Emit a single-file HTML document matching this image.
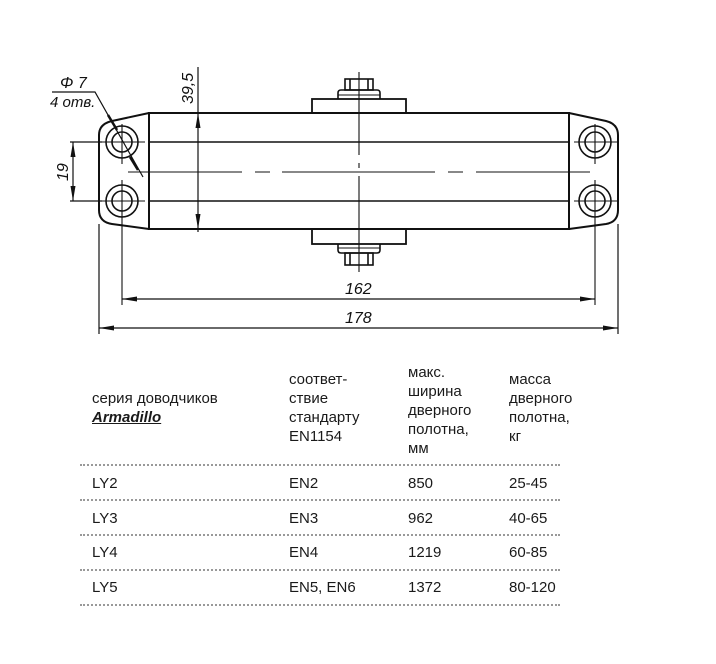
<!DOCTYPE html>
<html><head><meta charset="utf-8"><style>
body{margin:0;background:#fff;width:716px;height:664px;overflow:hidden;position:relative;font-family:"Liberation Sans",sans-serif;color:#1a1a1a}
svg{position:absolute;left:0;top:0}
.t{position:absolute;font-size:15px;line-height:19px;color:#1a1a1a}
.dot{position:absolute;left:80px;width:480px;border-top:2px dotted #999;height:0}
</style></head><body>
<svg width="716" height="664" viewBox="0 0 716 664" fill="none" stroke="#111" stroke-width="1.6">
<defs><marker id="a" viewBox="0 0 15 6" refX="15" refY="3" markerWidth="15" markerHeight="6" orient="auto-start-reverse" markerUnits="userSpaceOnUse"><path d="M0,0.5 L15,3 L0,5.5 z" fill="#111" stroke="none"/></marker></defs>
<rect x="149" y="113" width="420" height="116" stroke-width="2"/>
<line x1="149" y1="142" x2="569" y2="142"/>
<line x1="149" y1="201" x2="569" y2="201"/>
<path d="M149,113 L112,121 Q99,124 99,135 L99,210 Q99,222 112,224 L149,229" stroke-width="2"/>
<path d="M569,113 L606,121 Q618,124 618,135 L618,210 Q618,222 606,224 L569,229" stroke-width="2"/>
<g stroke-width="1.6">
<circle cx="122" cy="142" r="16"/><circle cx="122" cy="142" r="10"/>
<circle cx="122" cy="201" r="16"/><circle cx="122" cy="201" r="10"/>
<circle cx="595" cy="142" r="16"/><circle cx="595" cy="142" r="10"/>
<circle cx="595" cy="201" r="16"/><circle cx="595" cy="201" r="10"/>
</g>
<g stroke-width="1.1">
<line x1="102" y1="142" x2="145" y2="142"/><line x1="102" y1="201" x2="145" y2="201"/>
<line x1="574" y1="142" x2="618" y2="142"/><line x1="574" y1="201" x2="618" y2="201"/>
<line x1="122" y1="124" x2="122" y2="164"/><line x1="122" y1="180" x2="122" y2="305"/>
<line x1="595" y1="124" x2="595" y2="164"/><line x1="595" y1="180" x2="595" y2="305"/>
<path d="M128,172 H242 M255,172 H270 M282,172 H435 M448,172 H463 M476,172 H590"/>
<path d="M359,72 V155 M359,163 V168 M359,176 V272"/>
</g>
<rect x="312" y="99" width="94" height="14" stroke-width="1.8"/>
<path d="M338,99 V93 Q338,90 341,90 H377 Q380,90 380,93 V99" stroke-width="1.6"/>
<rect x="345" y="79" width="28" height="11" stroke-width="1.6"/>
<line x1="350" y1="79" x2="350" y2="90"/><line x1="368" y1="79" x2="368" y2="90"/>
<line x1="338" y1="95" x2="380" y2="95" stroke-width="1"/>
<rect x="312" y="229" width="94" height="15" stroke-width="1.8"/>
<path d="M338,244 V250 Q338,253 341,253 H377 Q380,253 380,250 V244" stroke-width="1.6"/>
<rect x="345" y="253" width="28" height="12" stroke-width="1.6"/>
<line x1="350" y1="253" x2="350" y2="265"/><line x1="368" y1="253" x2="368" y2="265"/>
<line x1="338" y1="248" x2="380" y2="248" stroke-width="1"/>
<g stroke-width="1.2">
<line x1="198" y1="67" x2="198" y2="113"/>
<line x1="198" y1="113" x2="198" y2="229" marker-start="url(#a)" marker-end="url(#a)"/>
<line x1="198" y1="229" x2="198" y2="232"/>
<line x1="70" y1="142" x2="102" y2="142"/><line x1="70" y1="201" x2="102" y2="201"/>
<line x1="73" y1="142" x2="73" y2="201" marker-start="url(#a)" marker-end="url(#a)"/>
<line x1="122" y1="299" x2="595" y2="299" marker-start="url(#a)" marker-end="url(#a)"/>
<line x1="99" y1="224" x2="99" y2="334"/><line x1="618" y1="224" x2="618" y2="334"/>
<line x1="99" y1="328" x2="618" y2="328" marker-start="url(#a)" marker-end="url(#a)"/>
<path d="M52,92 H95 L143,177"/>
</g>
<path d="M108,115 L117,130" stroke-width="2.5"/>
<path d="M130,157 L138,170" stroke-width="2.5"/>
<g fill="#111" stroke="none" font-family="Liberation Sans" font-style="italic" font-size="16">
<text x="60" y="88">Φ 7</text>
<text x="50" y="107" font-size="15">4 отв.</text>
<text transform="translate(193,104) rotate(-90)">39,5</text>
<text transform="translate(68,181) rotate(-90)">19</text>
<text x="345" y="294">162</text>
<text x="345" y="323">178</text>
</g>
</svg>
<div class="t" style="left:92px;top:389px">серия доводчиков<br><b><i><u>Armadillo</u></i></b></div>
<div class="t" style="left:289px;top:370px">соответ-<br>ствие<br>стандарту<br>EN1154</div>
<div class="t" style="left:408px;top:363px">макс.<br>ширина<br>дверного<br>полотна,<br>мм</div>
<div class="t" style="left:509px;top:370px">масса<br>дверного<br>полотна,<br>кг</div>
<div class="dot" style="top:464px"></div>
<div class="dot" style="top:499px"></div>
<div class="dot" style="top:534px"></div>
<div class="dot" style="top:569px"></div>
<div class="dot" style="top:604px"></div>
<div class="t" style="left:92px;top:474px">LY2</div><div class="t" style="left:289px;top:474px">EN2</div><div class="t" style="left:408px;top:474px">850</div><div class="t" style="left:509px;top:474px">25-45</div>
<div class="t" style="left:92px;top:509px">LY3</div><div class="t" style="left:289px;top:509px">EN3</div><div class="t" style="left:408px;top:509px">962</div><div class="t" style="left:509px;top:509px">40-65</div>
<div class="t" style="left:92px;top:543px">LY4</div><div class="t" style="left:289px;top:543px">EN4</div><div class="t" style="left:408px;top:543px">1219</div><div class="t" style="left:509px;top:543px">60-85</div>
<div class="t" style="left:92px;top:578px">LY5</div><div class="t" style="left:289px;top:578px">EN5, EN6</div><div class="t" style="left:408px;top:578px">1372</div><div class="t" style="left:509px;top:578px">80-120</div>
</body></html>
